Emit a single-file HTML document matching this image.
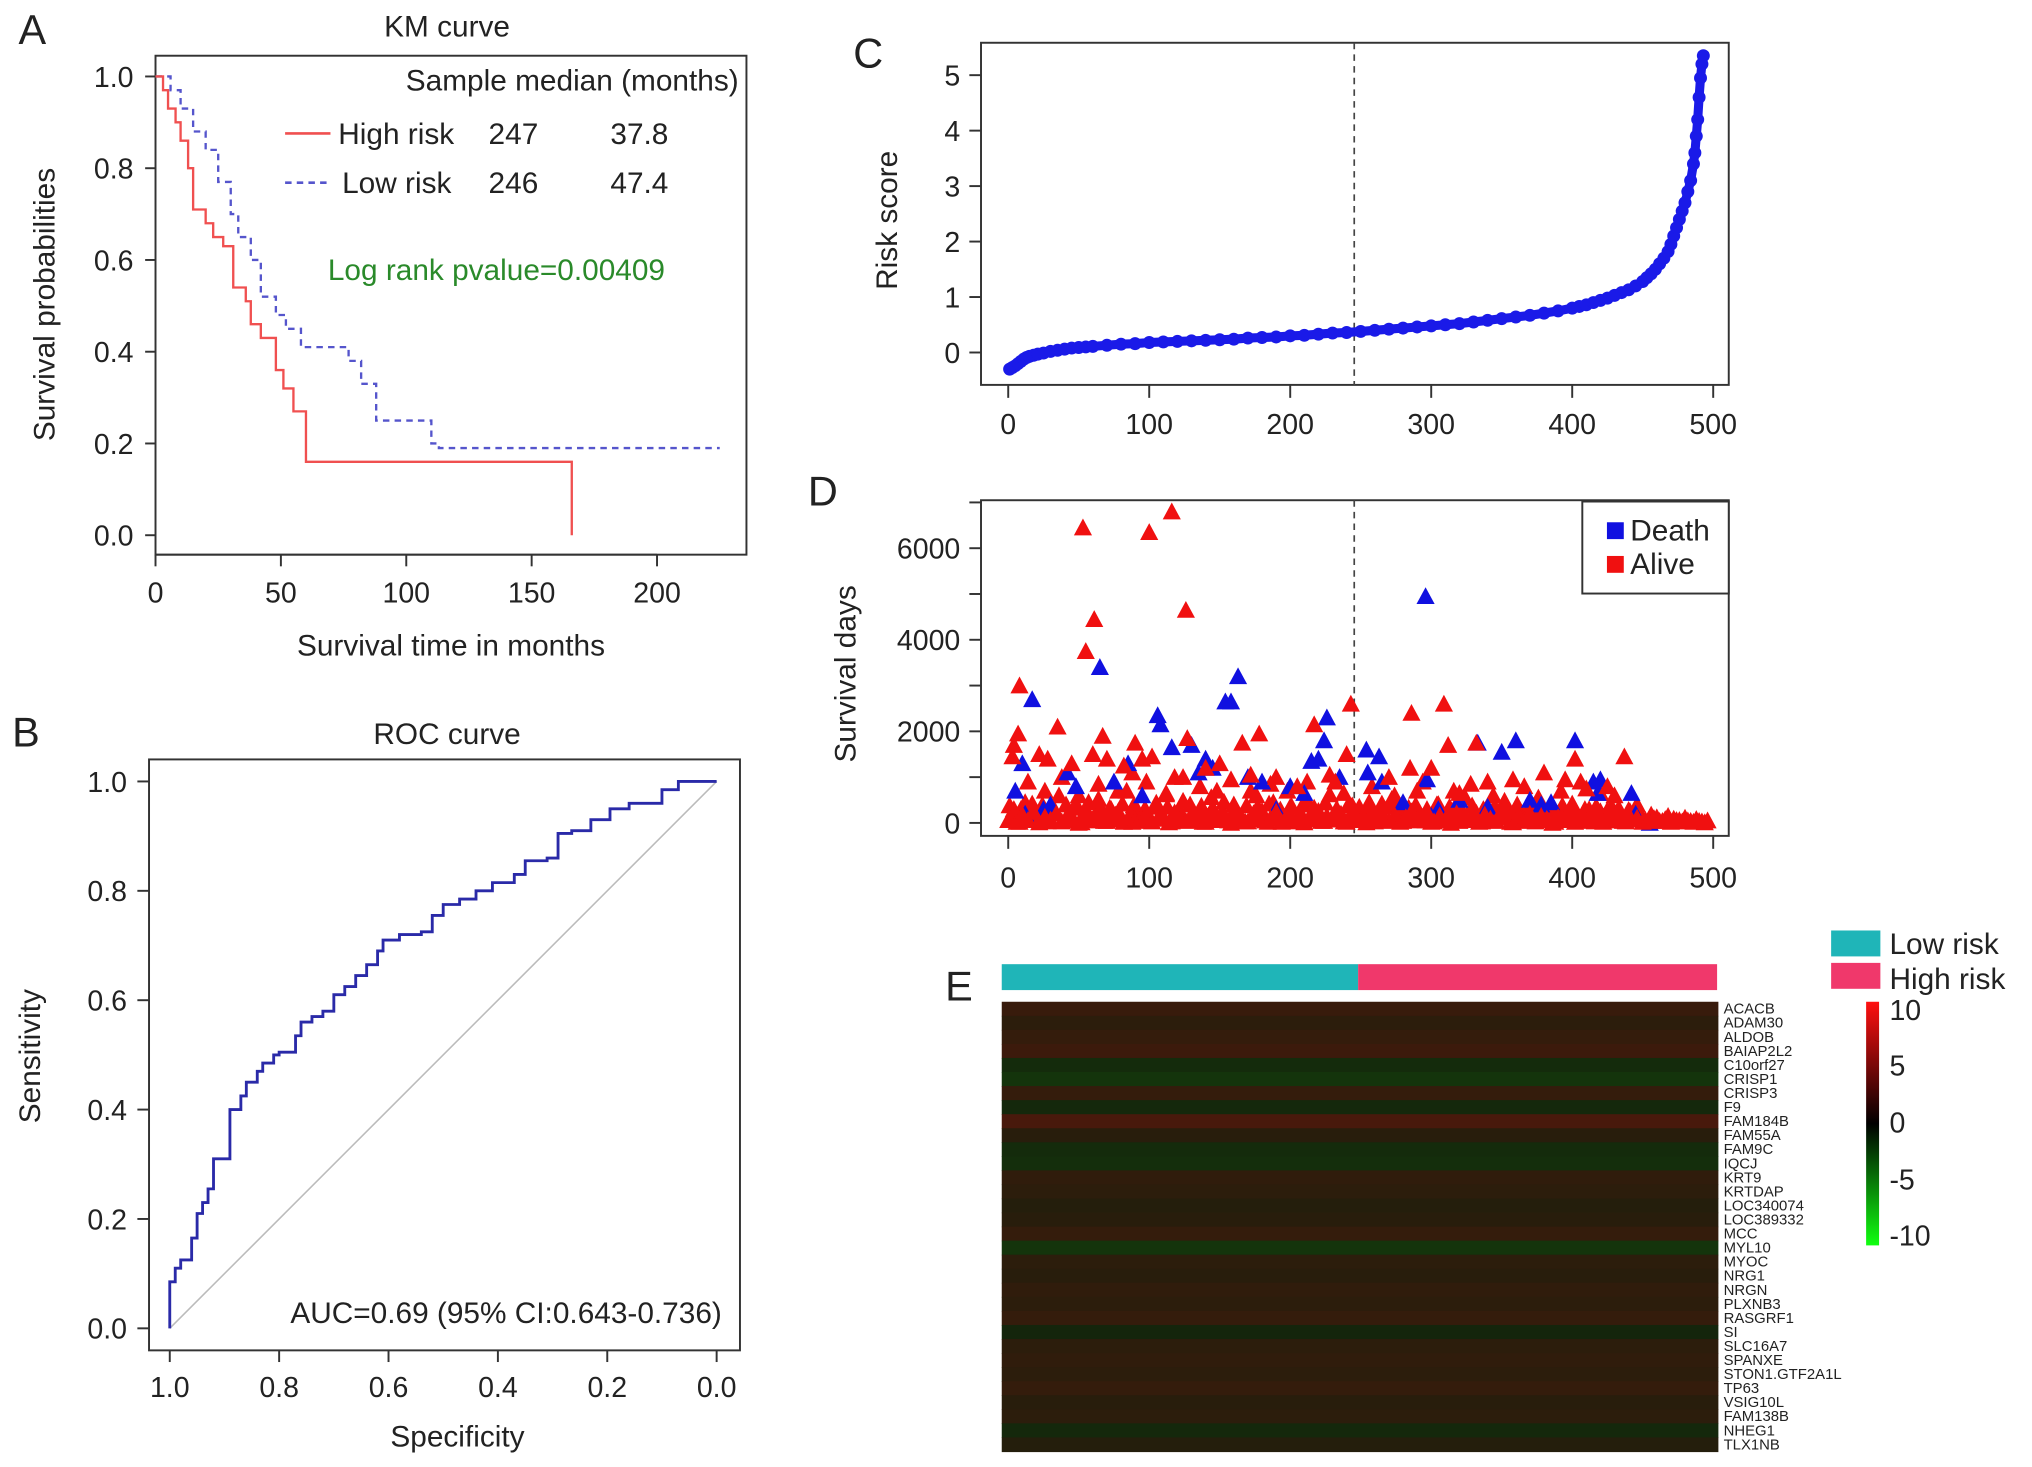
<!DOCTYPE html>
<html><head><meta charset="utf-8"><style>
html,body{margin:0;padding:0;background:#fff;}
svg{display:block;}
text{font-family:"Liberation Sans",Arial,sans-serif;fill:#222;}
</style></head><body>
<svg id="fig" xmlns="http://www.w3.org/2000/svg" width="2032" height="1467" viewBox="0 0 1568 1132" preserveAspectRatio="none">
<rect x="0" y="0" width="1568" height="1132" fill="#fff"/>
<g>
<text x="25" y="34" font-size="32" text-anchor="middle">A</text>
<text x="345" y="28" font-size="23" text-anchor="middle">KM curve</text>
<rect x="120" y="43" width="456" height="385" fill="none" stroke="#333" stroke-width="1.5"/>
<text x="570" y="70" font-size="23" text-anchor="end">Sample median (months)</text>
<line x1="220" y1="103" x2="255" y2="103" stroke="#f05050" stroke-width="2"/>
<text x="261" y="111" font-size="23">High risk</text>
<text x="377" y="111" font-size="23">247</text>
<text x="471" y="111" font-size="23">37.8</text>
<line x1="220" y1="141" x2="255" y2="141" stroke="#5555cc" stroke-width="2" stroke-dasharray="5,4"/>
<text x="264" y="149" font-size="23">Low risk</text>
<text x="377" y="149" font-size="23">246</text>
<text x="471" y="149" font-size="23">47.4</text>
<text x="253" y="216" font-size="23" style="fill:#2a8a2a">Log rank pvalue=0.00409</text>
<text x="348" y="506" font-size="23" text-anchor="middle">Survival time in months</text>
<text transform="translate(42,235) rotate(-90)" font-size="23" text-anchor="middle">Survival probabilities</text>
</g>
<g>
<text x="20" y="576" font-size="32" text-anchor="middle">B</text>
<text x="345" y="574" font-size="23" text-anchor="middle">ROC curve</text>
<rect x="115" y="586" width="456" height="456" fill="none" stroke="#333" stroke-width="1.5"/>
<line x1="131" y1="1025" x2="553" y2="603" stroke="#bbb" stroke-width="1.2"/>
<text x="557" y="1021" font-size="23" text-anchor="end">AUC=0.69 (95% CI:0.643-0.736)</text>
<text x="353" y="1116" font-size="23" text-anchor="middle">Specificity</text>
<text transform="translate(31,815) rotate(-90)" font-size="23" text-anchor="middle">Sensitivity</text>
</g>
<g>
<text x="670" y="52" font-size="32" text-anchor="middle">C</text>
<rect x="757" y="33" width="577" height="264" fill="none" stroke="#333" stroke-width="1.5"/>
<line x1="1045" y1="33" x2="1045" y2="297" stroke="#444" stroke-width="1.3" stroke-dasharray="5,4"/>
<text transform="translate(692,170) rotate(-90)" font-size="23" text-anchor="middle">Risk score</text>
</g>
<g>
<text x="635" y="390" font-size="32" text-anchor="middle">D</text>
<rect x="757" y="386" width="577" height="259" fill="none" stroke="#333" stroke-width="1.5"/>
<line x1="1045" y1="386" x2="1045" y2="645" stroke="#444" stroke-width="1.3" stroke-dasharray="5,4"/>
<text transform="translate(660,520) rotate(-90)" font-size="23" text-anchor="middle">Survival days</text>
</g>
<g id="dmarks"></g>
<g>
<rect x="1221" y="387" width="113" height="71" fill="#fff" stroke="#333" stroke-width="1.5"/>
<rect x="1240" y="403" width="13" height="13" fill="#1010e0"/>
<text x="1258" y="417" font-size="23">Death</text>
<rect x="1240" y="429" width="13" height="13" fill="#f01010"/>
<text x="1258" y="443" font-size="23">Alive</text>
</g>
<g>
<text x="740" y="772" font-size="32" text-anchor="middle">E</text>
<rect x="773" y="744" width="275" height="20" fill="#1fb5b8"/>
<rect x="1048" y="744" width="277" height="20" fill="#f0386b"/>
<rect x="1413" y="718" width="38" height="20" fill="#1fb5b8"/>
<text x="1458" y="736" font-size="23">Low risk</text>
<rect x="1413" y="743" width="38" height="20" fill="#f0386b"/>
<text x="1458" y="763" font-size="23">High risk</text>
<defs><linearGradient id="cb" x1="0" y1="0" x2="0" y2="1">
<stop offset="0" stop-color="#ff1010"/><stop offset="0.5" stop-color="#000"/><stop offset="1" stop-color="#10ff10"/></linearGradient></defs>
<rect x="1440" y="773" width="10" height="188" fill="url(#cb)"/>
<text x="1458" y="787" font-size="22">10</text>
<text x="1458" y="830" font-size="22">5</text>
<text x="1458" y="874" font-size="22">0</text>
<text x="1458" y="918" font-size="22">-5</text>
<text x="1458" y="961" font-size="22">-10</text>
</g>
<g id="heat"></g>
</svg>
<script>
const kmHighT=[0,3,5,8,10,13,15,20,23,27,31,36,38,42,48,51,55,60,166];
const kmHighS=[1,0.97,0.93,0.9,0.86,0.8,0.71,0.68,0.65,0.63,0.54,0.51,0.46,0.43,0.36,0.32,0.27,0.16,0.0];
const kmLowT=[0,3,6,10,15,20,25,30,33,38,42,48,52,58,72,77,82,88,105,110,113,225];
const kmLowS=[1,1,0.97,0.93,0.88,0.84,0.77,0.7,0.65,0.6,0.52,0.48,0.45,0.41,0.41,0.38,0.33,0.25,0.25,0.2,0.19,0.19];
const kmXTicks=[0,50,100,150,200];
const kmYTicks=[0,0.2,0.4,0.6,0.8,1.0];

const rocSpec=[1,1,0.99,0.98,0.96,0.95,0.94,0.93,0.92,0.91,0.89,0.87,0.86,0.84,0.83,0.81,0.80,0.77,0.76,0.74,0.72,0.70,0.68,0.66,0.64,0.62,0.61,0.58,0.54,0.52,0.50,0.47,0.44,0.41,0.37,0.35,0.31,0.29,0.265,0.23,0.195,0.16,0.10,0.07,0];
const rocSens=[0,0.05,0.085,0.11,0.125,0.165,0.21,0.23,0.255,0.31,0.31,0.40,0.425,0.45,0.47,0.485,0.50,0.505,0.535,0.56,0.57,0.58,0.61,0.625,0.645,0.665,0.69,0.71,0.72,0.725,0.755,0.775,0.785,0.80,0.815,0.83,0.855,0.86,0.905,0.91,0.93,0.95,0.96,0.985,1];
const rocTicks=[0,0.2,0.4,0.6,0.8,1.0];

const riskRank=[1,3,5,7,9,11,13,15,18,21,25,30,35,40,45,50,55,60,70,80,90,100,110,120,130,140,150,160,170,180,190,200,210,220,230,240,250,260,270,280,290,300,310,320,330,340,350,360,370,380,390,400,405,410,415,420,425,430,435,440,445,450,453,456,459,462,465,468,470,472,474,476,478,480,482,484,486,487,488,489,490,491,492,493];
const riskScore=[-0.3,-0.27,-0.24,-0.2,-0.16,-0.12,-0.09,-0.07,-0.05,-0.03,-0.01,0.02,0.04,0.06,0.08,0.09,0.1,0.11,0.13,0.15,0.16,0.18,0.19,0.2,0.21,0.22,0.23,0.24,0.26,0.27,0.28,0.3,0.31,0.33,0.35,0.36,0.38,0.4,0.42,0.44,0.46,0.48,0.5,0.52,0.55,0.58,0.61,0.64,0.67,0.71,0.75,0.8,0.83,0.86,0.9,0.94,0.98,1.03,1.08,1.13,1.2,1.28,1.35,1.42,1.5,1.6,1.7,1.82,1.95,2.1,2.25,2.4,2.55,2.7,2.9,3.1,3.4,3.6,3.9,4.2,4.6,4.95,5.2,5.35];
const rankTicks=[0,100,200,300,400,500];
const riskYTicks=[0,1,2,3,4,5];

const aliveRank=[53,100,116,126,61,55,8,35,7,4,3,67,90,127,166,178,217,243,286,309,312,332,402,437,358,300,285,22,28,45,60,70,82,95,102,118,140,150,172,190,205,232,240,270,290,320,340,380,395,410,425];
const aliveDays=[6450,6350,6800,4650,4450,3750,3000,2100,1950,1700,1450,1900,1750,1850,1750,1950,2150,2600,2400,2600,1700,1750,1400,1450,950,1200,1200,1500,1400,1300,1500,1400,1250,1400,1450,1000,1200,1300,1050,1000,800,900,1500,1000,700,650,900,1100,950,750,800];
const midRank=[14,26,38,50,64,78,88,98,112,124,136,148,158,176,186,198,212,228,238,258,274,294,316,328,344,366,376,392,406,420,430,446];
const midDays=[900,700,1000,600,850,700,1100,900,650,1000,800,700,950,600,850,700,900,1050,650,800,600,900,700,850,600,800,550,700,900,650,600,400];
const bandRank=[0,4,8,12,16,20,24,28,32,36,40,44,48,52,56,60,64,68,72,76,80,84,88,92,96,100,104,108,112,116,120,124,128,132,136,140,144,148,152,156,160,164,168,172,176,180,184,188,192,196,200,204,208,212,216,220,224,228,232,236,240,244,248,252,256,260,264,268,272,276,280,284,288,292,296,300,304,308,312,316,320,324,328,332,336,340,344,348,352,356,360,364,368,372,376,380,384,388,392,396,400,404,408,412,416,420,424,428,432,436,440,444,448,452,456,460,464,468,472,476,480,484,488,492,496];
const bandDays=[60,300,20,450,120,80,380,30,200,600,50,150,420,10,250,90,520,40,330,180,70,700,20,260,110,40,350,90,620,30,210,480,60,140,300,20,560,100,240,50,400,130,30,700,80,260,20,450,160,60,350,30,180,500,70,260,40,620,110,200,20,380,90,150,450,30,280,60,520,120,40,330,90,210,50,20,400,130,60,300,40,560,90,220,30,350,70,180,480,20,260,100,40,380,150,60,300,20,200,90,420,50,180,300,30,250,80,350,140,40,280,100,220,60,180,120,40,150,90,60,110,40,80,30,50];
const band2Rank=[2,6,10,14,18,22,26,30,34,38,42,46,50,54,58,62,66,70,74,78,82,86,90,94,98,102,106,110,114,118,122,126,130,134,138,142,146,150,154,158,162,166,170,174,178,182,186,190,194,198,202,206,210,214,218,222,226,230,234,238,242,246,250,254,258,262,266,270,274,278,282,286,290,294,298,302,306,310,314,318,322,326,330,334,338,342,346,350,354,358,362,366,370,374,378,382,386,390,394,398,402,406,410,414,418,422,426,430,434,438,442,446,450,454,458,462,466,470,474,478,482,486,490,494];
const band2Days=[100,20,180,60,240,10,130,70,200,30,150,90,0,220,50,120,180,40,80,250,20,160,60,110,200,30,90,140,10,230,70,40,190,100,20,150,250,60,120,0,180,80,30,210,140,50,100,240,20,170,60,130,10,90,200,40,150,70,220,30,110,180,60,10,140,230,90,40,170,20,120,250,50,100,190,30,160,70,0,210,110,60,140,20,180,90,40,230,120,10,160,70,200,30,150,90,0,120,60,180,20,100,40,150,80,20,120,50,90,30,70,110,20,60,100,40,80,20,60,30,50,20,40,10];
const band3Rank=[1,9,17,25,33,41,49,57,65,73,81,89,97,105,113,121,129,137,145,153,161,169,177,185,193,201,209,217,225,233,241,249,257,265,273,281,289,297,305,313,321,329,337,345,353,361,369,377,385,393,401,409,417,425,433,441];
const band3Days=[380,300,420,350,280,400,330,450,360,300,420,380,310,440,350,290,400,370,330,460,300,380,350,420,290,360,400,330,440,310,380,350,300,420,360,330,390,300,410,350,320,380,300,360,330,400,310,350,290,380,330,300,360,280,320,250];
const deathRank=[296,65,163,17,154,158,106,108,226,224,116,130,360,402,333,350,254,263,10,5,420,415,442,297,42,48,75,85,135,140,145,170,180,200,215,220,255,265,280,305,340,370,378,385,418,300,30,25,12,95,190,210,235,320,445,455];
const deathDays=[4950,3400,3200,2700,2650,2650,2350,2150,2300,1800,1650,1700,1800,1800,1750,1550,1600,1450,1300,700,950,900,650,950,1100,800,900,1300,1100,1400,1200,1000,900,800,1350,1400,1100,900,450,300,350,500,400,450,650,150,400,300,200,600,300,650,1000,500,200,0];
const daysTicks=[0,1000,2000,3000,4000,5000,6000,7000];
const daysLabels=["0","","2000","","4000","","6000",""];

const genes=["ACACB","ADAM30","ALDOB","BAIAP2L2","C10orf27","CRISP1","CRISP3","F9","FAM184B","FAM55A","FAM9C","IQCJ","KRT9","KRTDAP","LOC340074","LOC389332","MCC","MYL10","MYOC","NRG1","NRGN","PLXNB3","RASGRF1","SI","SLC16A7","SPANXE","STON1.GTF2A1L","TP63","VSIG10L","FAM138B","NHEG1","TLX1NB"];
const geneMean=[0.5,0.2,0.4,0.6,-0.3,-0.6,0.4,-0.2,0.9,0.1,-0.3,-0.4,0.3,0.2,0.0,0.1,0.4,-0.6,0.2,0.1,0.3,0.2,0.4,-0.1,0.2,0.3,0.2,0.4,0.1,0.2,-0.2,0.0];

const NS='http://www.w3.org/2000/svg';
const svg=document.getElementById('fig');
function mk(tag,attrs,parent){const e=document.createElementNS(NS,tag);for(const k in attrs)e.setAttribute(k,attrs[k]);(parent||svg).appendChild(e);return e;}
const ax=t=>120+t*1.935, ay=s=>413-s*354;
const bx=v=>553-v*422, by=v=>1025-v*422;
const rx=r=>778+r*1.088, cy=v=>272-v*42.8, dy=d=>635-d*0.03533;

kmXTicks.forEach(t=>{
  const l=mk('line',{x1:ax(t),y1:428,x2:ax(t),y2:437,stroke:'#333','stroke-width':1.5});
  
  
  const tx=mk('text',{x:ax(t),y:465,'font-size':22,'text-anchor':'middle'});tx.textContent=t;
  
  
});
let axl=mk('line',{x1:ax(0),y1:428,x2:ax(200),y2:428,stroke:'#333','stroke-width':1.5});


kmYTicks.forEach(v=>{
  const l=mk('line',{x1:112,y1:ay(v),x2:120,y2:ay(v),stroke:'#333','stroke-width':1.5});
  
  
  const tx=mk('text',{x:103,y:ay(v)+8,'font-size':22,'text-anchor':'end'});tx.textContent=v.toFixed(1);
  
  
});
function stepPath(T,S){let d='M'+ax(T[0])+','+ay(S[0]);for(let i=1;i<T.length;i++){d+=' H'+ax(T[i])+' V'+ay(S[i]);}return d;}
let lowP=mk('path',{d:stepPath(kmLowT,kmLowS),fill:'none',stroke:'#5555cc','stroke-width':1.8,'stroke-dasharray':'5,4'});


let highP=mk('path',{d:stepPath(kmHighT,kmHighS),fill:'none',stroke:'#f05050','stroke-width':1.8});



rocTicks.forEach(v=>{
  const l=mk('line',{x1:bx(v),y1:1042,x2:bx(v),y2:1051,stroke:'#333','stroke-width':1.5});
  
  
  const tx=mk('text',{x:bx(v),y:1078,'font-size':22,'text-anchor':'middle'});tx.textContent=v.toFixed(1);
  
  
  const l2=mk('line',{x1:106,y1:by(v),x2:115,y2:by(v),stroke:'#333','stroke-width':1.5});
  
  
  const ty=mk('text',{x:98,y:by(v)+8,'font-size':22,'text-anchor':'end'});ty.textContent=v.toFixed(1);
  
  
});
let rd='M'+bx(rocSpec[0])+','+by(rocSens[0]);
for(let i=1;i<rocSpec.length;i++){rd+=' V'+by(rocSens[i])+' H'+bx(rocSpec[i]);}
let roc=mk('path',{d:rd,fill:'none',stroke:'#2a2aa8','stroke-width':2.2});



function rankAxis(yTop,yLabel,prefix){
  rankTicks.forEach(r=>{
    const l=mk('line',{x1:rx(r),y1:yTop,x2:rx(r),y2:yTop+10,stroke:'#333','stroke-width':1.5});
    
    
    const tx=mk('text',{x:rx(r),y:yLabel,'font-size':22,'text-anchor':'middle'});tx.textContent=r;
    
    
  });
}
rankAxis(297,335,'risk');
riskYTicks.forEach(v=>{
  const l=mk('line',{x1:748,y1:cy(v),x2:757,y2:cy(v),stroke:'#333','stroke-width':1.5});
  
  
  const tx=mk('text',{x:741,y:cy(v)+8,'font-size':22,'text-anchor':'end'});tx.textContent=v;
  
  
});
let pts=riskRank.map((r,i)=>rx(r)+','+cy(riskScore[i])).join(' ');
let rl=mk('polyline',{points:pts,fill:'none',stroke:'#1a1ae8','stroke-width':7,'stroke-linecap':'round','stroke-linejoin':'round'});


riskRank.forEach((r,i)=>{
  const c=mk('circle',{cx:rx(r),cy:cy(riskScore[i]),r:5,fill:'#1a1ae8'});
  
  
});

rankAxis(645,685,'survival');
daysTicks.forEach((d,i)=>{
  const l=mk('line',{x1:748,y1:dy(d),x2:757,y2:dy(d),stroke:'#333','stroke-width':1.5});
  
  
  if(daysLabels[i]){
    const tx=mk('text',{x:741,y:dy(d)+8,'font-size':22,'text-anchor':'end'});tx.textContent=daysLabels[i];
    
    
  }
});
const dg=document.getElementById('dmarks');
function tri(r,d,col,name){
  const x=rx(r),y=dy(d);
  const p=mk('polygon',{points:(x-7)+','+(y+6)+' '+(x+7)+','+(y+6)+' '+x+','+(y-7),fill:col},dg);
  
  
}
band3Rank.forEach((r,i)=>tri(r,band3Days[i],'#f01010','alive-point'));
bandRank.forEach((r,i)=>tri(r,bandDays[i],'#f01010','alive-point'));
midRank.forEach((r,i)=>tri(r,midDays[i],'#f01010','alive-point'));
deathRank.forEach((r,i)=>tri(r,deathDays[i],'#1010e0','death-point'));
band2Rank.forEach((r,i)=>tri(r,band2Days[i],'#f01010','alive-point'));
aliveRank.forEach((r,i)=>tri(r,aliveDays[i],'#f01010','alive-point'));

const hg=document.getElementById('heat');
const hx0=773,hx1=1326,hy0=773,hy1=1120,rh=(hy1-hy0)/genes.length;
function heatColor(v){
  if(v>=0) return 'rgb('+Math.round(36+40*v)+','+Math.round(30-6*v)+',12)';
  return 'rgb(20,'+Math.round(34+30*(-v))+',12)';
}
genes.forEach((g,i)=>{
  const r=mk('rect',{x:hx0,y:hy0+i*rh,width:hx1-hx0,height:rh+0.5,fill:heatColor(geneMean[i])},hg);
  
  
  const t=mk('text',{x:1330,y:hy0+i*rh+rh*0.85,'font-size':11.5},hg);t.textContent=g;
  
  
});
</script>
</body></html>
